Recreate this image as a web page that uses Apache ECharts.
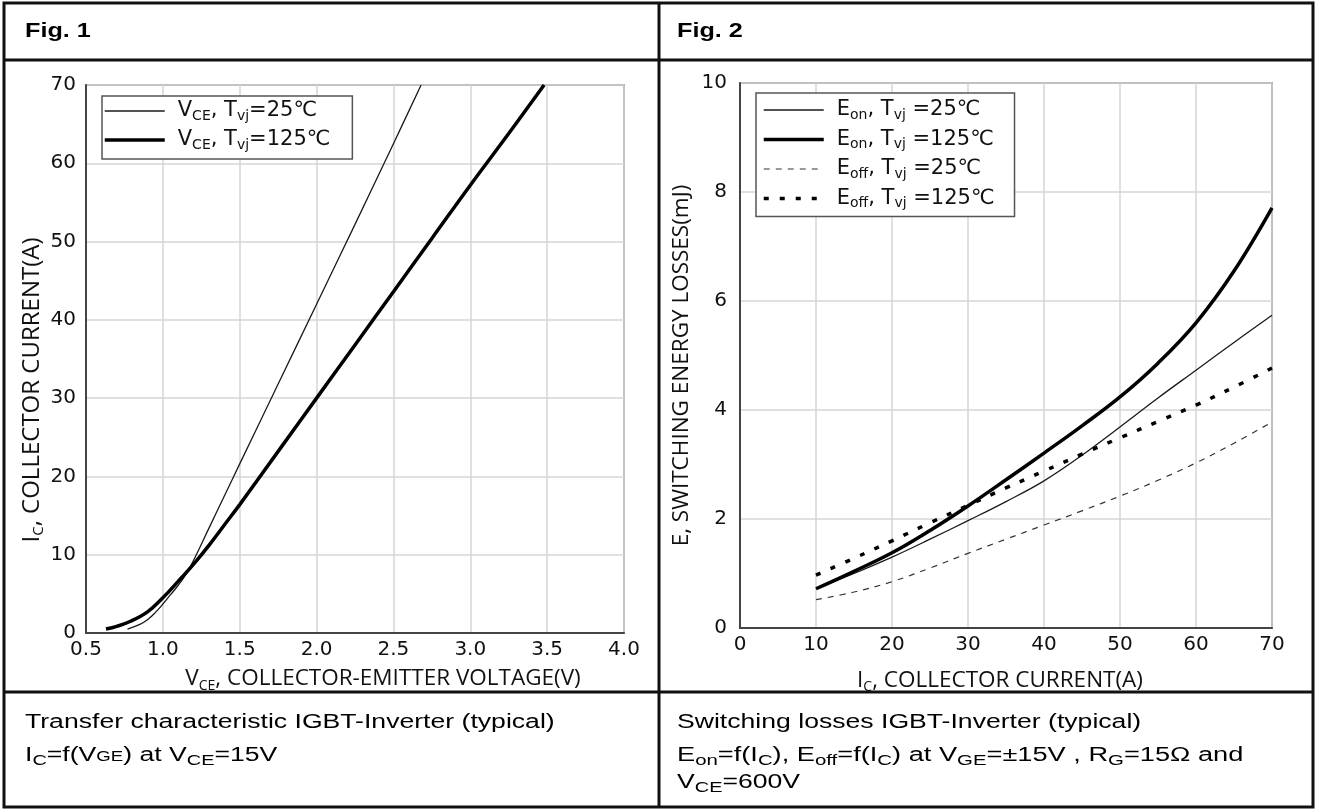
<!DOCTYPE html>
<html>
<head>
<meta charset="utf-8">
<title>IGBT-Inverter characteristics</title>
<script src="https://cdn.jsdelivr.net/npm/echarts@6/dist/echarts.min.js"></script>
<style>
  html, body { margin: 0; padding: 0; background: #ffffff; }
  #chart { width: 1317px; height: 812px; }
</style>
</head>
<body>
<div id="chart"></div>
<script>
// ---------- Fig. 1: transfer characteristic, IC versus VCE ----------
const fig1XTicks = [0.5, 1.0, 1.5, 2.0, 2.5, 3.0, 3.5, 4.0];
const fig1YTicks = [0, 10, 20, 30, 40, 50, 60, 70];

const vce25  = [0.77, 0.85, 0.90, 0.95, 1.00, 1.05, 1.10, 1.15, 1.20, 1.30, 1.40, 1.50, 1.75, 2.00, 2.25, 2.50, 2.68];
const ic25   = [0.5,  1.1,  1.7,  2.6,  3.7,  4.9,  6.1,  7.5,  9.3,  13.4, 17.5, 21.6, 31.8, 42.0, 52.2, 62.5, 70.0];

const vce125 = [0.63, 0.70, 0.79, 0.90, 1.00, 1.10, 1.20, 1.30, 1.40, 1.50, 1.75, 2.00, 2.25, 2.50, 2.75, 3.00, 3.25, 3.48];
const ic125  = [0.5,  0.85, 1.5,  2.7,  4.5,  6.6,  8.8,  11.2, 13.8, 16.4, 23.2, 30.0, 36.8, 43.6, 50.4, 57.2, 63.8, 70.0];

// ---------- Fig. 2: switching energy versus collector current ----------
const fig2XTicks = [0, 10, 20, 30, 40, 50, 60, 70];
const fig2YTicks = [0, 2, 4, 6, 8, 10];

const icSteps = [10,   15,   20,   25,   30,   35,   40,   45,   50,   55,   60,   65,   70];
const eon25   = [0.72, 1.00, 1.30, 1.63, 1.97, 2.32, 2.70, 3.17, 3.69, 4.22, 4.73, 5.24, 5.74];
const eon125  = [0.72, 1.04, 1.38, 1.79, 2.24, 2.72, 3.21, 3.71, 4.24, 4.86, 5.60, 6.55, 7.71];
const eoff25  = [0.52, 0.66, 0.85, 1.10, 1.37, 1.63, 1.89, 2.15, 2.42, 2.71, 3.03, 3.39, 3.78];
const eoff125 = [0.97, 1.28, 1.60, 1.93, 2.25, 2.57, 2.88, 3.19, 3.49, 3.79, 4.09, 4.42, 4.77];

// series names and their rich-text legend labels
const NAME_V25  = 'VCE, Tvj=25℃';
const NAME_V125 = 'VCE, Tvj=125℃';
const NAME_EON25   = 'Eon, Tvj =25℃';
const NAME_EON125  = 'Eon, Tvj =125℃';
const NAME_EOFF25  = 'Eoff, Tvj =25℃';
const NAME_EOFF125 = 'Eoff, Tvj =125℃';

const legendLabels = {};
legendLabels[NAME_V25]     = '{n|V}{s|CE}{n|, T}{s|vj}{n|=25℃}';
legendLabels[NAME_V125]    = '{n|V}{s|CE}{n|, T}{s|vj}{n|=125℃}';
legendLabels[NAME_EON25]   = '{n|E}{s|on}{n|, T}{s|vj}{n| =25℃}';
legendLabels[NAME_EON125]  = '{n|E}{s|on}{n|, T}{s|vj}{n| =125℃}';
legendLabels[NAME_EOFF25]  = '{n|E}{s|off}{n|, T}{s|vj}{n| =25℃}';
legendLabels[NAME_EOFF125] = '{n|E}{s|off}{n|, T}{s|vj}{n| =125℃}';

const pairs = (xs, ys) => xs.map((x, i) => [x, ys[i]]);

const INK = '#111111';
const TICK_FONT = '"DejaVu Sans", "Liberation Sans", sans-serif';
const NAME_FONT = '"Open Sans", "Noto Sans", sans-serif';
const CAP_FONT = '"Liberation Sans", Arial, sans-serif';

const legendRich = {
  n: { fontFamily: TICK_FONT, fontSize: 21, color: INK, lineHeight: 24 },
  s: { fontFamily: TICK_FONT, fontSize: 14, color: INK, lineHeight: 14, padding: [10, 0, 0, 0] }
};
function nameRich(size) {
  return {
    n: { fontFamily: NAME_FONT, fontSize: size, color: INK, lineHeight: size + 6 },
    s: { fontFamily: NAME_FONT, fontSize: Math.round(size * 0.62), color: INK, lineHeight: 14, padding: [14, 0, 0, 0] }
  };
}
const capRich = {
  n: { fontFamily: CAP_FONT, fontSize: 20, color: '#000', lineHeight: 26 },
  s: { fontFamily: CAP_FONT, fontSize: 15, color: '#000', padding: [12, 0, 0, 0] },
  m: { fontFamily: CAP_FONT, fontSize: 14, color: '#000', padding: [4, 0, 0, 0] }
};

function valueAxis(gridIndex, ticks, extra) {
  return Object.assign({
    gridIndex: gridIndex,
    type: 'value',
    min: ticks[0],
    max: ticks[ticks.length - 1],
    interval: ticks[1] - ticks[0],
    axisLine: { show: true, onZero: false, lineStyle: { color: '#444', width: 2 } },
    axisTick: { show: false },
    splitLine: { show: true, lineStyle: { color: '#d6d6d6', width: 1.5 } },
    nameLocation: 'middle'
  }, extra);
}

const tickLabel = (margin, formatter) => ({
  fontFamily: TICK_FONT, fontSize: 20, color: INK, margin: margin, formatter: formatter
});

const frameLine = { stroke: '#111', lineWidth: 3 };

const legendCommon = {
  orient: 'vertical',
  itemWidth: 60, itemHeight: 14, itemGap: 5,
  backgroundColor: '#ffffff',
  borderColor: '#555', borderWidth: 1.5, borderRadius: 0,
  selectedMode: false,
  itemStyle: { opacity: 0 },
  lineStyle: { width: 'inherit' },
  formatter: name => legendLabels[name],
  textStyle: { rich: legendRich, padding: [0, 0, 0, 8] }
};

const option = {
  backgroundColor: '#ffffff',
  animation: false,
  grid: [
    { left: 86, top: 85, width: 538, height: 548, show: true, borderColor: '#666', borderWidth: 1.5, backgroundColor: 'transparent' },
    { left: 740, top: 83, width: 532, height: 545, show: true, borderColor: '#555', borderWidth: 1.5, backgroundColor: 'transparent' }
  ],
  xAxis: [
    valueAxis(0, fig1XTicks, {
      axisLabel: tickLabel(7, v => v.toFixed(1)),
      name: '{n|V}{s|CE}{n|, COLLECTOR-EMITTER VOLTAGE(V)}',
      nameGap: 31,
      nameTextStyle: { rich: nameRich(22.5), padding: [0, 0, 0, 56] }
    }),
    valueAxis(1, fig2XTicks, {
      axisLabel: tickLabel(7),
      name: '{n|I}{s|C}{n|, COLLECTOR CURRENT(A)}',
      nameGap: 38,
      nameTextStyle: { rich: nameRich(22.5), padding: [0, 12, 0, 0] }
    })
  ],
  yAxis: [
    valueAxis(0, fig1YTicks, {
      axisLabel: tickLabel(10),
      name: '{n|I}{s|C}{n|, COLLECTOR CURRENT(A)}',
      nameGap: 36,
      nameTextStyle: { rich: nameRich(24), padding: [0, 62, 0, 0] }
    }),
    valueAxis(1, fig2YTicks, {
      axisLabel: tickLabel(13),
      name: '{n|E, SWITCHING ENERGY LOSSES(mJ)}',
      nameGap: 44,
      nameTextStyle: { rich: nameRich(22.5), padding: [0, 20, 0, 0] }
    })
  ],
  legend: [
    Object.assign({}, legendCommon, {
      data: [NAME_V25, NAME_V125],
      left: 102, top: 96,
      padding: [3, 22, 7, 1]
    }),
    Object.assign({}, legendCommon, {
      data: [NAME_EON25, NAME_EON125, NAME_EOFF25, NAME_EOFF125],
      left: 756, top: 93,
      itemGap: 5.5,
      padding: [5, 20, 6, 6]
    })
  ],
  series: [
    {
      name: NAME_V25, type: 'line', xAxisIndex: 0, yAxisIndex: 0,
      data: pairs(vce25, ic25), symbol: 'none', smooth: 0.4,
      lineStyle: { color: '#1a1a1a', width: 1.3 }, z: 3
    },
    {
      name: NAME_V125, type: 'line', xAxisIndex: 0, yAxisIndex: 0,
      data: pairs(vce125, ic125), symbol: 'none', smooth: 0.4,
      lineStyle: { color: '#000', width: 3.5 }, z: 4
    },
    {
      name: NAME_EON25, type: 'line', xAxisIndex: 1, yAxisIndex: 1,
      data: pairs(icSteps, eon25), symbol: 'none', smooth: 0.4,
      lineStyle: { color: '#1a1a1a', width: 1.3 }, z: 3
    },
    {
      name: NAME_EON125, type: 'line', xAxisIndex: 1, yAxisIndex: 1,
      data: pairs(icSteps, eon125), symbol: 'none', smooth: 0.4,
      lineStyle: { color: '#000', width: 3.5 }, z: 4
    },
    {
      name: NAME_EOFF25, type: 'line', xAxisIndex: 1, yAxisIndex: 1,
      data: pairs(icSteps, eoff25), symbol: 'none', smooth: 0.4,
      lineStyle: { color: '#333', width: 1.2, type: [6, 6] }, z: 3
    },
    {
      name: NAME_EOFF125, type: 'line', xAxisIndex: 1, yAxisIndex: 1,
      data: pairs(icSteps, eoff125), symbol: 'none', smooth: 0.4,
      lineStyle: { color: '#000', width: 3.5, type: [5, 11] }, z: 3
    }
  ],
  graphic: [
    // table frame
    { type: 'rect', silent: true, shape: { x: 4, y: 3, width: 1309, height: 804 }, style: { fill: null, stroke: '#111', lineWidth: 3 } },
    { type: 'line', silent: true, shape: { x1: 4, y1: 60, x2: 1313, y2: 60 }, style: frameLine },
    { type: 'line', silent: true, shape: { x1: 4, y1: 692, x2: 1313, y2: 692 }, style: frameLine },
    { type: 'line', silent: true, shape: { x1: 659, y1: 3, x2: 659, y2: 807 }, style: frameLine },
    // headers
    { type: 'text', silent: true, x: 25, y: 31, scaleX: 1.2,
      style: { text: 'Fig. 1', font: 'bold 21px "Liberation Sans", Arial, sans-serif', fill: '#000', verticalAlign: 'middle' } },
    { type: 'text', silent: true, x: 677, y: 31, scaleX: 1.2,
      style: { text: 'Fig. 2', font: 'bold 21px "Liberation Sans", Arial, sans-serif', fill: '#000', verticalAlign: 'middle' } },
    // captions
    { type: 'text', silent: true, x: 25, y: 722, scaleX: 1.33,
      style: { text: '{n|Transfer characteristic IGBT-Inverter (typical)}', rich: capRich, verticalAlign: 'middle' } },
    { type: 'text', silent: true, x: 25, y: 755, scaleX: 1.33,
      style: { text: '{n|I}{s|C}{n|=f(V}{m|GE}{n|) at V}{s|CE}{n|=15V}', rich: capRich, verticalAlign: 'middle' } },
    { type: 'text', silent: true, x: 677, y: 722, scaleX: 1.33,
      style: { text: '{n|Switching losses IGBT-Inverter (typical)}', rich: capRich, verticalAlign: 'middle' } },
    { type: 'text', silent: true, x: 677, y: 755, scaleX: 1.36,
      style: { text: '{n|E}{s|on}{n|=f(I}{s|C}{n|), E}{s|off}{n|=f(I}{s|C}{n|) at V}{s|GE}{n|=±15V , R}{s|G}{n|=15Ω and}', rich: capRich, verticalAlign: 'middle' } },
    { type: 'text', silent: true, x: 677, y: 782, scaleX: 1.33,
      style: { text: '{n|V}{s|CE}{n|=600V}', rich: capRich, verticalAlign: 'middle' } }
  ]
};

const chart = echarts.init(document.getElementById('chart'), null, { renderer: 'canvas' });
chart.setOption(option);
</script>
</body>
</html>
